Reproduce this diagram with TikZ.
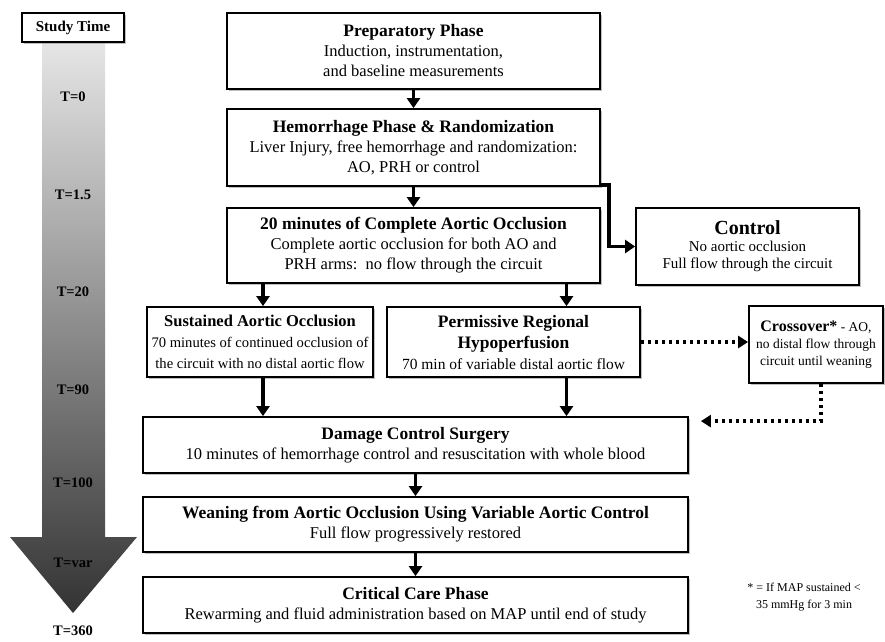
\documentclass[tikz,border=0pt]{standalone}
\usepackage{fontspec}
\setmainfont{Liberation Serif}
\usetikzlibrary{arrows.meta, shadows, positioning}
\newcommand{\phasetitle}[1]{{\fontsize{17.5}{20}\selectfont\bfseries #1}}

\begin{document}
\begin{tikzpicture}[x=1pt, y=-1pt,
    phase/.style={draw, line width=1.8pt, fill=white, align=center, inner sep=0pt,
      font=\fontsize{16.5}{20}\selectfont,
      drop shadow={shadow xshift=2pt, shadow yshift=-2pt, fill=black!50, opacity=0.5}},
    arr/.style={line width=3.5pt, -{Triangle[length=10pt, width=13pt]}},
    dotarr/.style={line width=3.5pt, dash pattern=on 3.5pt off 3.5pt,
      -{Triangle[length=10pt, width=12pt]}},
    tlabel/.style={font=\fontsize{14.5}{16}\selectfont\bfseries, inner sep=1pt}]
  \useasboundingbox (0,0) rectangle (885,641);

  % study time arrow
  \shade[top color=black!10, bottom color=black!80]
    (42,42) -- (105,42) -- (105,537) -- (137,537) -- (73,613) -- (10,537) -- (42,537) -- cycle;
  \node[phase, minimum width=102pt, minimum height=29pt, font=\fontsize{15}{16}\selectfont\bfseries]
    (study) at (73,27.5) {Study Time};
  \foreach \t/\n/\y in {0/a/97, 1.5/b/195, 20/c/292, 90/d/390, 100/e/483, var/f/563, 360/g/631}
    \node[tlabel] (time\n) at (73,\y) {T=\t};

  % phases
  \node[phase, minimum width=373pt, minimum height=76pt] (prep) at (413.5,51)
    {\phasetitle{Preparatory Phase}\\ Induction, instrumentation,\\ and baseline measurements};
  \node[phase, minimum width=373pt, minimum height=77pt] (hem) at (413.5,147.5)
    {\phasetitle{Hemorrhage Phase \& Randomization}\\ Liver Injury, free hemorrhage and randomization:\\ AO, PRH or control};
  \node[phase, minimum width=373pt, minimum height=75pt] (occl) at (413.5,245.5)
    {\phasetitle{20 minutes of Complete Aortic Occlusion}\\ Complete aortic occlusion for both AO and\\ PRH arms:\ \ no flow through the circuit};
  \node[phase, minimum width=223pt, minimum height=77pt, font=\fontsize{15}{17}\selectfont] (control) at (747.5,246.5)
    {{\fontsize{20}{22}\selectfont\bfseries Control}\\ No aortic occlusion\\ Full flow through the circuit};
  \node[phase, minimum width=226pt, minimum height=70pt, font=\fontsize{14.6}{21}\selectfont] (sao) at (260,342)
    {{\fontsize{16.5}{20}\selectfont\bfseries Sustained Aortic Occlusion}\\ 70 minutes of continued occlusion of\\ the circuit with no distal aortic flow};
  \node[phase, minimum width=253pt, minimum height=70pt, font=\fontsize{15.5}{21}\selectfont] (prh) at (513.5,342)
    {\phasetitle{Permissive Regional}\\ \phasetitle{Hypoperfusion}\\ 70 min of variable distal aortic flow};
  \node[phase, minimum width=134pt, minimum height=77pt, font=\fontsize{13.5}{17}\selectfont] (cross) at (816,344.5)
    {{\fontsize{16}{17}\selectfont\bfseries Crossover*} - AO,\\ no distal flow through\\ circuit until weaning};
  \node[phase, minimum width=545pt, minimum height=56pt] (dcs) at (415.5,445)
    {\phasetitle{Damage Control Surgery}\\ 10 minutes of hemorrhage control and resuscitation with whole blood};
  \node[phase, minimum width=545pt, minimum height=55pt] (wean) at (415.5,524.5)
    {\phasetitle{Weaning from Aortic Occlusion Using Variable Aortic Control}\\ Full flow progressively restored};
  \node[phase, minimum width=545pt, minimum height=56pt] (crit) at (415.5,605)
    {\phasetitle{Critical Care Phase}\\ Rewarming and fluid administration based on MAP until end of study};
  \node[align=center, font=\fontsize{12}{17}\selectfont] (note) at (804,597)
    {* = If MAP sustained <\\ 35 mmHg for 3 min};

  % connectors
  \draw[arr] (prep) -- (hem);
  \draw[arr] (hem) -- (occl);
  \draw[arr] ([yshift=2pt]hem.south east) -- ++(8,0) |- (control.west);
  \draw[arr] ([xshift=3pt]sao.north |- occl.south) -- ([xshift=3pt]sao.north);
  \draw[arr] ([xshift=53pt]prh.north |- occl.south) -- ([xshift=53pt]prh.north);
  \draw[arr] ([xshift=3pt]sao.south) -- ([xshift=3pt]sao.south |- dcs.north);
  \draw[arr] ([xshift=53pt]prh.south) -- ([xshift=53pt]prh.south |- dcs.north);
  \draw[arr] (dcs) -- (wean);
  \draw[arr] (wean) -- (crit);
  \draw[dotarr] (prh.east) -- (prh.east -| cross.west);
  \coordinate (dcsin) at ([xshift=12pt, yshift=-5pt]dcs.north east);
  \draw[dotarr] ([xshift=5pt]cross.south) |- (dcsin);
\end{tikzpicture}
\end{document}
